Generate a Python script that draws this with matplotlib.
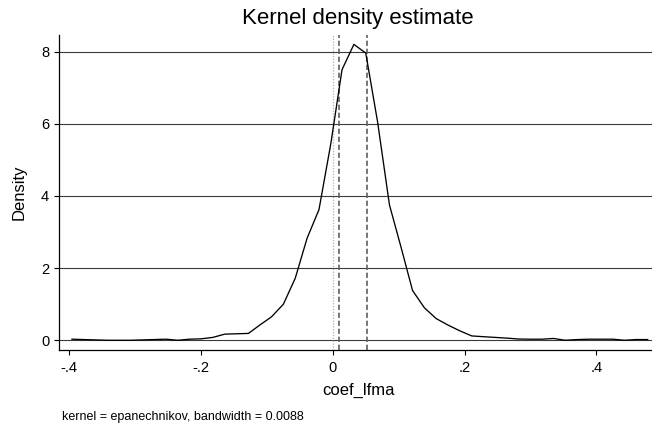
import matplotlib
matplotlib.use("Agg")
import matplotlib.pyplot as plt

plt.rcParams['font.family'] = ['Liberation Sans', 'DejaVu Sans']

# Kernel density estimate of coef_lfma (evaluation grid and density values)
grid_x = [-0.396, -0.378, -0.360, -0.342, -0.325, -0.307, -0.289, -0.271, -0.253, -0.235,
          -0.218, -0.200, -0.182, -0.164, -0.146, -0.128, -0.111, -0.093, -0.075, -0.057,
          -0.039, -0.021, -0.003, 0.014, 0.032, 0.050, 0.068, 0.086, 0.104, 0.121,
          0.139, 0.157, 0.175, 0.193, 0.211, 0.228, 0.246, 0.264, 0.282, 0.300,
          0.318, 0.335, 0.353, 0.371, 0.389, 0.407, 0.425, 0.443, 0.460, 0.478]
density = [0.03, 0.02, 0.01, 0.00, 0.00, 0.00, 0.01, 0.02, 0.03, 0.00,
           0.03, 0.04, 0.08, 0.17, 0.18, 0.19, 0.42, 0.65, 1.00, 1.72,
           2.83, 3.62, 5.45, 7.50, 8.20, 7.96, 6.05, 3.75, 2.55, 1.38,
           0.90, 0.60, 0.42, 0.26, 0.12, 0.10, 0.08, 0.06, 0.035, 0.03,
           0.03, 0.05, 0.00, 0.02, 0.03, 0.03, 0.03, 0.00, 0.02, 0.02]

# Reference lines
zero_line = 0.0
dashed_lines = [0.010, 0.0525]

x_ticks = [-0.4, -0.2, 0.0, 0.2, 0.4]
x_tick_labels = ["-.4", "-.2", "0", ".2", ".4"]
y_ticks = [0, 2, 4, 6, 8]
y_tick_labels = ["0", "2", "4", "6", "8"]

fig = plt.figure(figsize=(6.52, 4.28), dpi=100)
ax = fig.add_axes([0.0905, 0.1822, 0.9095, 0.7360])

ax.set_xlim(-0.4156, 0.4845)
ax.set_ylim(-0.27, 8.46)

for yv in y_ticks:
    ax.axhline(yv, color='#3a3a3a', lw=0.8, zorder=1)

ax.axvline(zero_line, color='#b0b0b0', lw=0.9, ls=(0, (1, 1.3)), zorder=2)
for xv in dashed_lines:
    ax.axvline(xv, color='#606060', lw=1.2, ls=(0, (3.2, 1.6)), zorder=2)

ax.plot(grid_x, density, color='black', lw=0.95, zorder=3)

ax.set_xticks(x_ticks)
ax.set_xticklabels(x_tick_labels, fontsize=10.5)
ax.set_yticks(y_ticks)
ax.set_yticklabels(y_tick_labels, fontsize=10.5)
ax.tick_params(axis='both', direction='out', length=3.6, width=0.8, color='black')
ax.tick_params(axis='x', pad=4)
ax.tick_params(axis='y', pad=3.5)

for side in ['top', 'right']:
    ax.spines[side].set_visible(False)
for side in ['left', 'bottom']:
    ax.spines[side].set_linewidth(0.9)
    ax.spines[side].set_color('black')

fig.text(358 / 652, 1 - 24 / 428, "Kernel density estimate", fontsize=16,
         ha='center', va='baseline')
fig.text(18.7 / 652, 0.55, "Density", fontsize=12, rotation=90,
         ha='center', va='center')
fig.text(358 / 652, 1 - 395 / 428, "coef_lfma", fontsize=12,
         ha='center', va='baseline')
fig.text(61.7 / 652, 1 - 420 / 428, "kernel = epanechnikov, bandwidth = 0.0088",
         fontsize=9, ha='left', va='baseline')

fig.savefig("out.png", dpi=100)
